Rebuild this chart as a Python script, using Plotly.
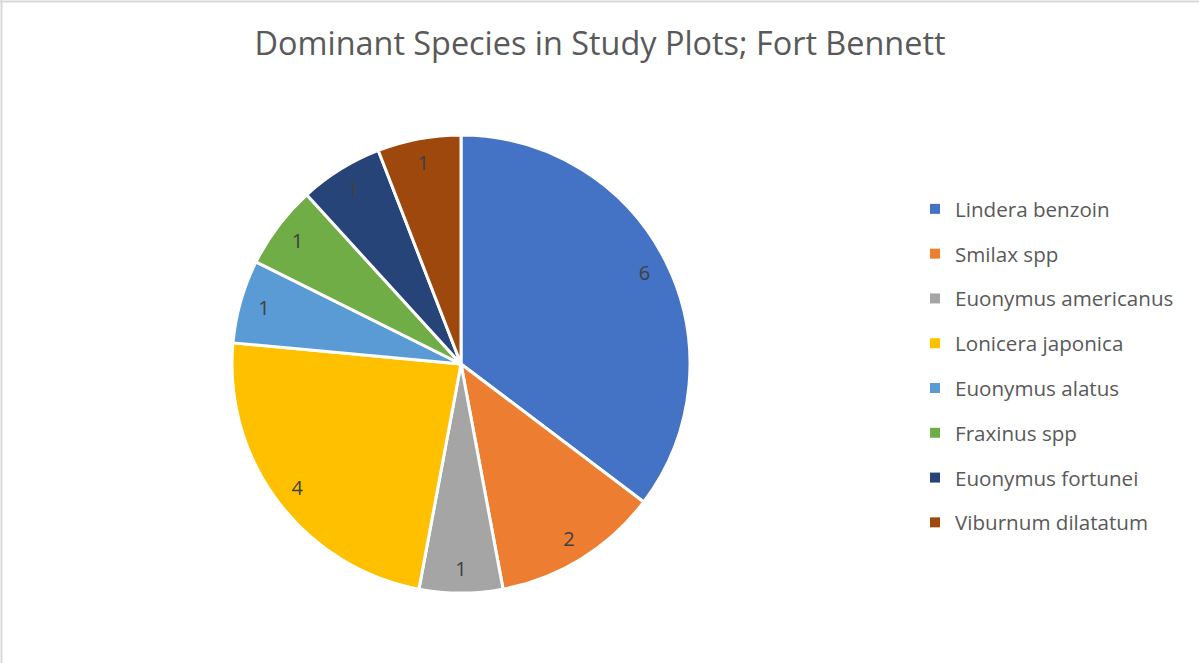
import plotly.graph_objects as go

species = ["Lindera benzoin", "Smilax spp", "Euonymus americanus", "Lonicera japonica",
           "Euonymus alatus", "Fraxinus spp", "Euonymus fortunei", "Viburnum dilatatum"]
counts = [6, 2, 1, 4, 1, 1, 1, 1]
colors = ["#4472C4", "#ED7D31", "#A5A5A5", "#FFC000", "#5B9BD5", "#70AD47", "#264478", "#9E480E"]

W, H = 1199, 663
cx, cy, r = 461, 364, 229
FONT = "Open Sans"
dom = dict(x=[(cx - r) / W, (cx + r) / W], y=[1 - (cy + r) / H, 1 - (cy - r) / H])

fig = go.Figure()
# colored slices
fig.add_trace(go.Pie(
    labels=species, values=counts, sort=False, direction="clockwise", rotation=0,
    marker=dict(colors=colors, line=dict(color="white", width=3)),
    textinfo="none", domain=dom, showlegend=False, hoverinfo="label+value",
))
# data labels placed near the outer edge (ring overlay)
fig.add_trace(go.Pie(
    labels=species, values=counts, sort=False, direction="clockwise", rotation=0, hole=0.79,
    marker=dict(colors=["rgba(0,0,0,0)"] * len(counts), line=dict(width=0)),
    textinfo="value", textposition="inside", insidetextorientation="horizontal",
    textfont=dict(size=20, color="#404040", family=FONT),
    domain=dom, showlegend=False, hoverinfo="skip",
))
for s, c in zip(species, colors):
    fig.add_trace(go.Scatter(
        x=[None], y=[None], mode="markers", name=s, legendgroup=s,
        marker=dict(symbol="square", size=10, color=c), showlegend=True,
    ))

fig.update_layout(
    width=W, height=H,
    margin=dict(l=0, r=0, t=0, b=0),
    paper_bgcolor="white", plot_bgcolor="white",
    xaxis=dict(visible=False), yaxis=dict(visible=False),
    title=dict(text="Dominant Species in Study Plots; Fort Bennett", x=600 / W, xanchor="center",
               y=1 - 44 / H, yanchor="middle", yref="container",
               font=dict(size=32.4, color="#595959", family=FONT)),
    legend=dict(x=915 / W, xanchor="left", y=1 - 189 / H, yanchor="top",
                font=dict(size=20.6, color="#595959", family=FONT),
                tracegroupgap=15, traceorder="grouped", itemwidth=30,
                bgcolor="rgba(0,0,0,0)"),
    shapes=[
        dict(type="line", xref="paper", yref="paper", x0=0, x1=1, y0=1 - 1.5 / H, y1=1 - 1.5 / H,
             line=dict(color="#D9D9D9", width=2)),
        dict(type="line", xref="paper", yref="paper", x0=1.5 / W, x1=1.5 / W, y0=0, y1=1,
             line=dict(color="#D9D9D9", width=2)),
    ],
)
fig.write_html("out.html", config={"displayModeBar": False},
               post_script="document.body.style.margin='0';")
